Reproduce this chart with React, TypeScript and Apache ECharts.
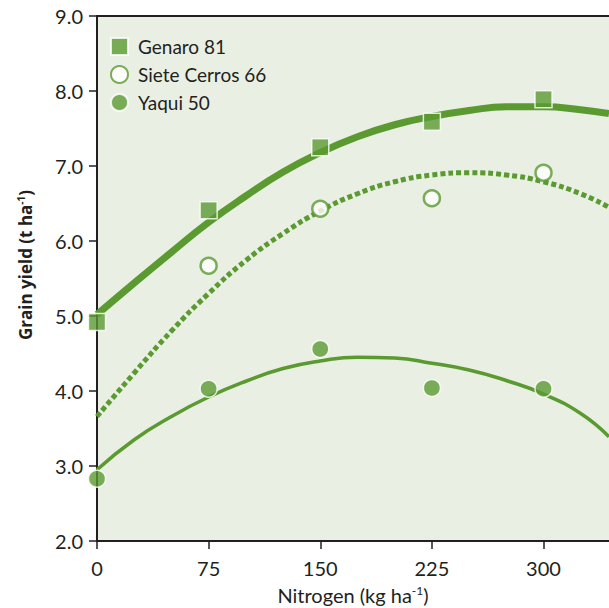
import React, { useEffect, useRef } from "react";
import * as echarts from "echarts";

// Observed data points (kg N/ha vs t/ha)
const nitrogen = [0, 75, 150, 225, 300];
const genaro = [4.92, 6.41, 7.25, 7.59, 7.89];
const sieteN = [75, 150, 225, 300];
const siete = [5.67, 6.43, 6.57, 6.91];
const yaqui = [2.83, 4.03, 4.56, 4.04, 4.03];

// Fitted response curves
const curveN = [0, 25, 50, 75, 100, 125, 150, 175, 200, 225, 250, 275, 300, 325, 344];
const genaroFit = [5.02, 5.44, 5.85, 6.25, 6.6, 6.92, 7.18, 7.39, 7.55, 7.66, 7.74, 7.79, 7.79, 7.75, 7.7];
const sieteFit = [3.66, 4.24, 4.8, 5.3, 5.74, 6.1, 6.4, 6.63, 6.79, 6.88, 6.91, 6.88, 6.79, 6.63, 6.45];
const yaquiFit = [2.95, 3.35, 3.66, 3.92, 4.13, 4.3, 4.4, 4.45, 4.44, 4.37, 4.28, 4.14, 3.96, 3.7, 3.39];

const xTicks = [0, 75, 150, 225, 300];
const seriesNames = ["Genaro 81", "Siete Cerros 66", "Yaqui 50"];

const GREEN = "#5a9a31";
const TEXT = "#231f20";
const FONT = "Lato, 'Open Sans', sans-serif";

const pairs = (xs: number[], ys: number[]) => xs.map((x, i) => [x, ys[i]]);

export default function App() {
  const ref = useRef<HTMLDivElement>(null);
  useEffect(() => {
    document.body.style.margin = "0";
    const chart = echarts.init(ref.current!, undefined, { renderer: "svg" });
    chart.setOption({
      animation: false,
      textStyle: { fontFamily: FONT, color: TEXT },
      grid: {
        left: 97,
        right: 0,
        top: 16,
        bottom: 67,
        show: true,
        backgroundColor: "#e9efe3",
        borderWidth: 0,
        containLabel: false,
        outerBoundsMode: "none",
      },
      legend: {
        data: seriesNames,
        orient: "vertical",
        left: 110,
        top: 37,
        padding: 0,
        itemWidth: 17,
        itemHeight: 17,
        itemGap: 9,
        textStyle: { fontSize: 19, lineHeight: 17, color: TEXT, fontFamily: FONT, padding: [0, 0, 0, 5] },
      },
      xAxis: [
        {
          type: "value",
          min: 0,
          max: 344,
          interval: 75,
          name: "Nitrogen (kg ha{sup|-1})",
          nameLocation: "middle",
          nameGap: 43,
          nameTextStyle: {
            fontSize: 20,
            color: TEXT,
            fontFamily: FONT,
            rich: { sup: { fontSize: 12, verticalAlign: "top", padding: [0, 0, 9, 0], fontFamily: FONT, color: TEXT } },
          },
          axisLine: { show: true, lineStyle: { color: "#231f20", width: 2 } },
          axisTick: { show: true, length: 8, lineStyle: { color: "#231f20", width: 1.5 }, customValues: xTicks },
          axisLabel: {
            fontSize: 20,
            color: TEXT,
            margin: 17,
            fontFamily: FONT,
            customValues: xTicks,
          },
          splitLine: { show: false },
        },
        {
          type: "value",
          position: "top",
          min: 0,
          max: 344,
          axisLine: { show: true, lineStyle: { color: "#231f20", width: 2 } },
          axisTick: { show: false },
          axisLabel: { show: false },
          splitLine: { show: false },
        },
      ],
      yAxis: {
        type: "value",
        min: 2,
        max: 9,
        interval: 1,
        axisLine: { show: true, lineStyle: { color: "#231f20", width: 2 } },
        axisTick: { show: true, length: 8, lineStyle: { color: "#231f20", width: 1.5 } },
        axisLabel: {
          fontSize: 20,
          color: TEXT,
          margin: 14,
          fontFamily: FONT,
          formatter: (v: number) => v.toFixed(1),
        },
        splitLine: { show: false },
      },
      graphic: [
        {
          type: "text",
          x: 25,
          y: 265,
          rotation: Math.PI / 2,
          style: {
            text: "Grain yield (t ha{sup|-1})",
            fontSize: 17,
            fontWeight: "bold",
            fontFamily: "'Open Sans', Lato, sans-serif",
            fill: TEXT,
            align: "center",
            verticalAlign: "middle",
            rich: {
              sup: { fontSize: 10, fontWeight: "bold", verticalAlign: "top", padding: [0, 0, 8, 0], fontFamily: "'Open Sans', Lato, sans-serif", fill: TEXT },
            },
          },
        },
      ],
      series: [
        {
          name: "Genaro 81 fit",
          type: "line",
          smooth: true,
          symbol: "none",
          data: pairs(curveN, genaroFit),
          lineStyle: { color: GREEN, width: 7 },
          z: 2,
        },
        {
          name: "Siete Cerros 66 fit",
          type: "line",
          smooth: true,
          symbol: "none",
          data: pairs(curveN, sieteFit),
          lineStyle: { color: GREEN, width: 5, type: [5, 3], cap: "butt" },
          z: 2,
        },
        {
          name: "Yaqui 50 fit",
          type: "line",
          smooth: true,
          symbol: "none",
          data: pairs(curveN, yaquiFit),
          lineStyle: { color: GREEN, width: 3.5 },
          z: 2,
        },
        {
          name: seriesNames[0],
          type: "scatter",
          symbol: "rect",
          symbolSize: 17,
          data: pairs(nitrogen, genaro),
          itemStyle: { color: GREEN, borderColor: "#ffffff", borderWidth: 1.5 },
          z: 5,
        },
        {
          name: seriesNames[1],
          type: "scatter",
          symbol: "circle",
          symbolSize: 16,
          data: pairs(sieteN, siete),
          itemStyle: { color: "#ffffff", borderColor: GREEN, borderWidth: 2.5 },
          z: 5,
        },
        {
          name: seriesNames[2],
          type: "scatter",
          symbol: "circle",
          symbolSize: 17,
          data: pairs(nitrogen, yaqui),
          itemStyle: { color: GREEN, borderColor: "#ffffff", borderWidth: 1.5 },
          z: 5,
        },
      ],
    });
    return () => chart.dispose();
  }, []);
  return <div ref={ref} style={{ width: 609, height: 608 }} />;
}
